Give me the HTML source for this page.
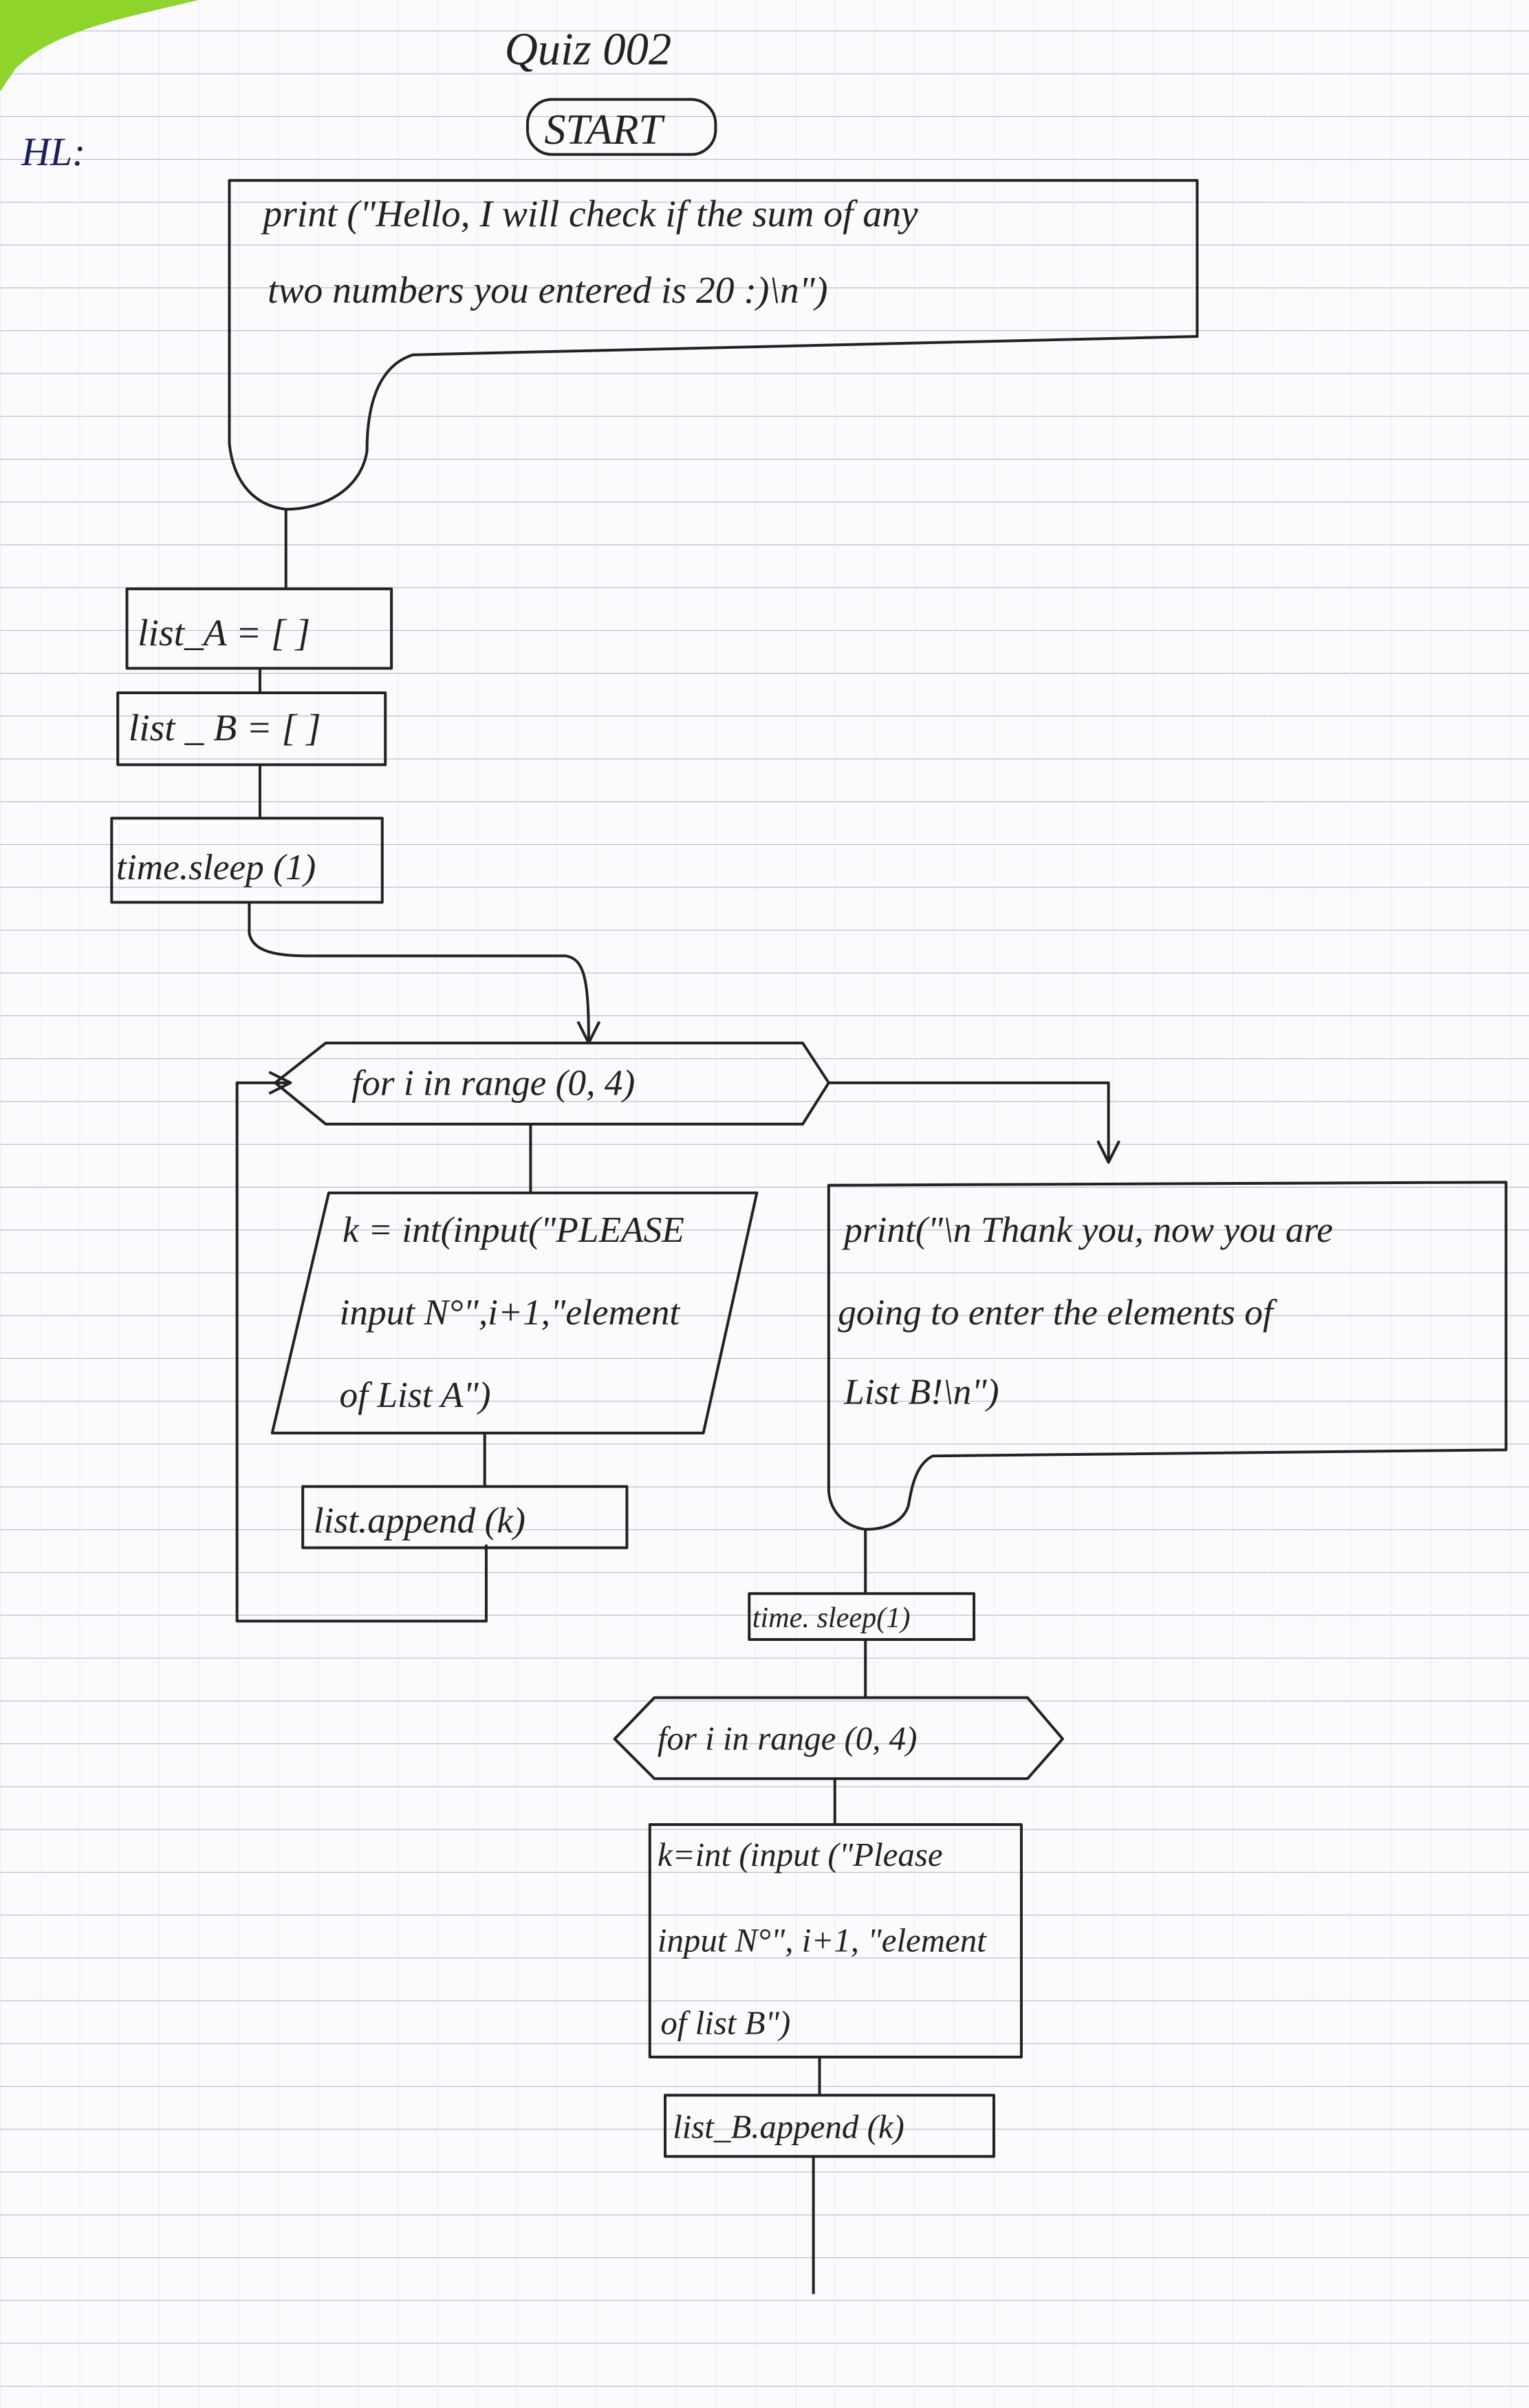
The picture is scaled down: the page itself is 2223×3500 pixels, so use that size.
<!DOCTYPE html>
<html><head><meta charset="utf-8"><style>
html,body{margin:0;padding:0;background:#fbfbfd;}
svg{display:block}
text{font-family:"Liberation Serif",serif;font-style:italic;fill:#222;}
</style></head><body>
<svg width="2223" height="3500" viewBox="0 0 1000 1574.5" xmlns="http://www.w3.org/2000/svg">
<defs>
<pattern id="g" width="26" height="28" patternUnits="userSpaceOnUse" x="0" y="20">
<line x1="0" y1="0" x2="26" y2="0" stroke="#a9afcf" stroke-width="0.9"/>
<line x1="0" y1="0" x2="0" y2="28" stroke="#dcdfea" stroke-width="0.5"/>
</pattern>
</defs>
<rect width="1000" height="1574.5" fill="#fbfbfd"/>
<rect width="1000" height="1574.5" fill="url(#g)"/>
<path d="M0,0 L130,0 C80,12 35,20 10,45 L0,60 Z" fill="#8fd42a"/>
<g fill="none" stroke="#222" stroke-width="1.8" stroke-linejoin="round">
<rect x="345" y="65" width="123" height="36" rx="16"/>
<path d="M150,118 L783,118 L783,220 L270,232 C245,240 240,270 240,295 C236,320 212,333 187,333 C162,330 152,310 150,290 Z"/>
<line x1="187" y1="333" x2="187" y2="385"/>
<rect x="83" y="385" width="173" height="52"/>
<line x1="170" y1="437" x2="170" y2="453"/>
<rect x="77" y="453" width="175" height="47"/>
<line x1="170" y1="500" x2="170" y2="535"/>
<rect x="73" y="535" width="177" height="55"/>
<path d="M163,590 L163,610 C165,622 180,625 200,625 L370,625 C382,627 385,640 385,680"/>
<path d="M378,668 L385,682 L392,668"/>
<path d="M213,682 L525,682 L542,708 L525,735 L213,735 L180,708 Z"/>
<path d="M318,1010 L318,1060 L155,1060 L155,708 L190,708"/>
<path d="M176,701 L190,708 L176,715"/>
<line x1="347" y1="735" x2="347" y2="780"/>
<path d="M215,780 L495,780 L460,937 L178,937 Z"/>
<line x1="317" y1="937" x2="317" y2="972"/>
<rect x="198" y="972" width="212" height="40"/>
<path d="M542,708 L725,708 L725,760"/>
<path d="M718,746 L725,760 L732,746"/>
<path d="M542,775 L985,773 L985,948 L610,952 C598,958 596,975 594,985 C590,996 578,1000 566,1000 C552,998 543,988 542,975 Z"/>
<line x1="566" y1="1000" x2="566" y2="1042"/>
<rect x="490" y="1042" width="147" height="30"/>
<line x1="566" y1="1072" x2="566" y2="1110"/>
<path d="M428,1110 L672,1110 L695,1137 L672,1163 L428,1163 L402,1137 Z"/>
<line x1="546" y1="1163" x2="546" y2="1193"/>
<rect x="425" y="1193" width="243" height="152"/>
<line x1="536" y1="1345" x2="536" y2="1370"/>
<rect x="435" y="1370" width="215" height="40"/>
<line x1="532" y1="1410" x2="532" y2="1500"/>
</g>
<text x="330" y="42" font-size="30">Quiz  002</text>
<text x="356" y="94" font-size="28" font-style="normal" font-family="Liberation Sans">START</text>
<text x="14" y="108" font-size="26" style="fill:#1a1f5a">HL:</text>
<text x="172" y="148" font-size="25">print ("Hello, I will check if the sum of any</text>
<text x="175" y="198" font-size="25">two numbers you entered is 20 :)\n")</text>
<text x="90" y="422" font-size="25">list_A = [ ]</text>
<text x="84" y="484" font-size="25">list _ B = [ ]</text>
<text x="76" y="575" font-size="24">time.sleep (1)</text>
<text x="230" y="716" font-size="24">for i in range (0, 4)</text>
<text x="224" y="812" font-size="24">k = int(input("PLEASE</text>
<text x="222" y="866" font-size="24">input N°",i+1,"element</text>
<text x="222" y="920" font-size="24">of List A")</text>
<text x="205" y="1002" font-size="24">list.append (k)</text>
<text x="552" y="812" font-size="24">print("\n Thank you, now you are</text>
<text x="548" y="866" font-size="24">going to enter the elements of</text>
<text x="552" y="918" font-size="24">List B!\n")</text>
<text x="492" y="1064" font-size="19">time. sleep(1)</text>
<text x="430" y="1144" font-size="22">for i in range (0, 4)</text>
<text x="430" y="1220" font-size="22">k=int (input ("Please</text>
<text x="430" y="1276" font-size="22">input N°", i+1, "element</text>
<text x="432" y="1330" font-size="22">of list B")</text>
<text x="440" y="1398" font-size="22">list_B.append (k)</text>
</svg>
</body></html>
